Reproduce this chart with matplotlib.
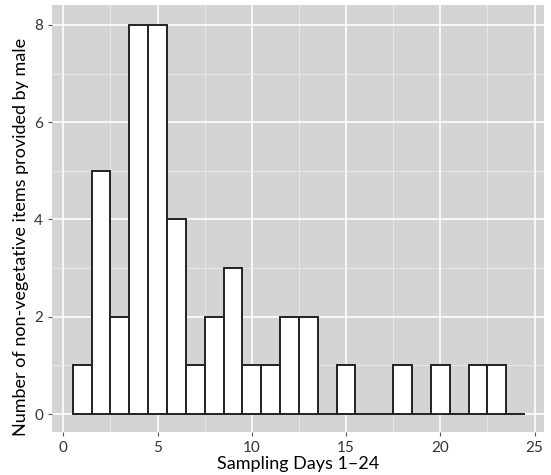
import matplotlib
matplotlib.use("Agg")
import matplotlib.pyplot as plt
from matplotlib.ticker import MultipleLocator

days = list(range(1, 25))
counts = [1, 5, 2, 8, 8, 4, 1, 2, 3, 1, 1, 2, 2, 0, 1, 0, 0, 1, 0, 1, 0, 1, 1, 0]
x_ticks = [0, 5, 10, 15, 20, 25]
y_ticks = [0, 2, 4, 6, 8]

plt.rcParams["font.family"] = ["Lato", "DejaVu Sans"]

fig = plt.figure(figsize=(5.51, 4.75), dpi=100)
ax = fig.add_axes([52 / 551, 43 / 475, 492 / 551, 427 / 475])
ax.set_facecolor("#d4d4d4")

ax.bar(days, counts, width=1.0, color="white", edgecolor="#222222", linewidth=1.4, zorder=3)

ax.set_xlim(-0.6, 25.5)
ax.set_ylim(-0.37, 8.41)
ax.set_xticks(x_ticks)
ax.set_yticks(y_ticks)
ax.xaxis.set_minor_locator(MultipleLocator(2.5))
ax.yaxis.set_minor_locator(MultipleLocator(1))
ax.grid(which="major", color="white", linewidth=1.2, zorder=0)
ax.grid(which="minor", color="#eaeaea", linewidth=0.6, zorder=0)
ax.set_axisbelow(True)

for s in ax.spines.values():
    s.set_visible(False)
ax.tick_params(which="both", length=3, color="#555555", labelsize=11, labelcolor="#333333")
ax.tick_params(which="minor", length=0)

ax.set_xlabel("Sampling Days 1\u201324", fontsize=13, labelpad=1)
ax.set_ylabel("Number of non-vegetative items provided by male", fontsize=13)
ax.yaxis.set_label_coords(-0.046, 0.457)

fig.savefig("out.png", dpi=100, facecolor="white")
